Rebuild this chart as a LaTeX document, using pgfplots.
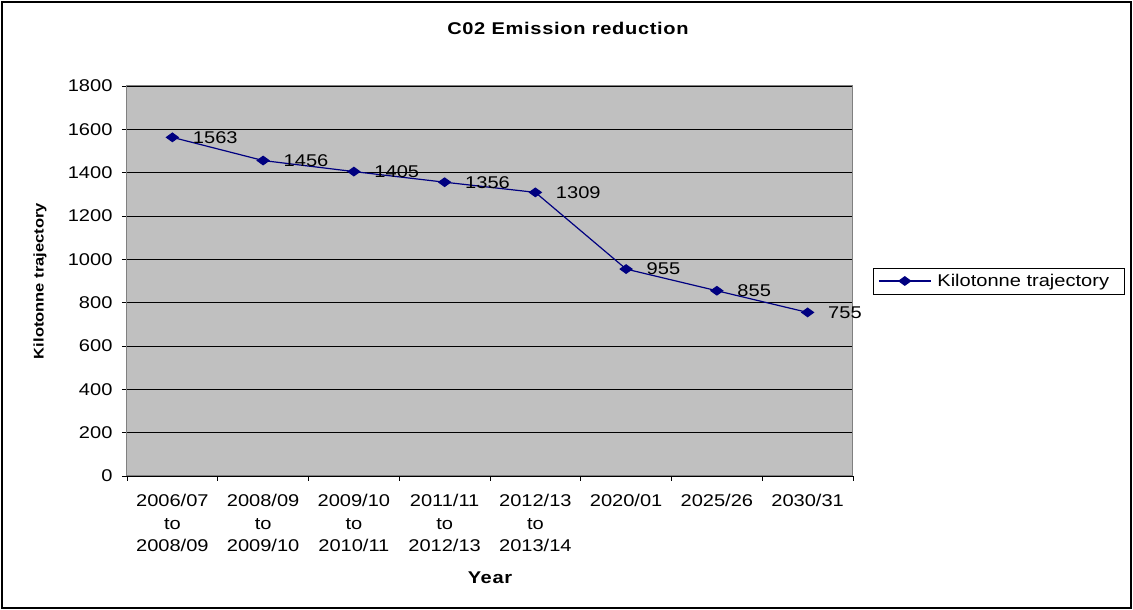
\documentclass[border=0pt]{standalone}
\usepackage{pgfplots}
\pgfplotsset{compat=1.18}
\usepackage{fontspec}
\setmainfont{Liberation Sans}[FakeStretch=1.18]
\definecolor{navy}{RGB}{0,0,128}
\definecolor{plotgrey}{RGB}{192,192,192}
\definecolor{frameg}{RGB}{128,128,128}
\newcommand{\lab}{\fontsize{17}{22.5}\selectfont}
\begin{document}
\begin{tikzpicture}
\useasboundingbox (-127pt,-134pt) rectangle (1006pt,476pt);
\draw[line width=1.3pt] (-125pt,-132pt) rectangle (1004pt,474pt);
\begin{axis}[
  at={(0pt,0pt)}, anchor=south west,
  scale only axis, width=726pt, height=390pt,
  xmin=-0.5, xmax=7.5, ymin=0, ymax=1800,
  ytick={0,200,...,1800},
  xtick={0,...,7},
  xticklabels={{2006/07\\to\\2008/09},{2008/09\\to\\2009/10},{2009/10\\to\\2010/11},{2011/11\\to\\2012/13},{2012/13\\to\\2013/14},{2020/01},{2025/26},{2030/31}},
  minor xtick={-0.5,0.5,...,7.5},
  minor ytick={0,200,...,1800},
  major tick length=0pt,
  minor tick length=5pt,
  tick align=outside,
  xtick pos=bottom, ytick pos=left,
  ymajorgrids,
  major grid style={black, line width=0.9pt},
  axis background/.style={fill=plotgrey},
  axis line style={draw=frameg, line width=1pt},
  minor tick style={black, line width=0.9pt},
  xticklabel style={anchor=north, align=center, font=\lab, yshift=-15pt},
  yticklabel style={anchor=east, font=\lab, xshift=-11pt},
  title={C02 Emission reduction},
  title style={at={(axis description cs:0.6074,1.131)}, anchor=center, font=\bfseries\fontsize{17}{20}\selectfont\addfontfeature{LetterSpace=4}},
  xlabel={Year},
  xlabel style={at={(axis description cs:0.5,-0.262)}, anchor=center, font=\bfseries\fontsize{17}{20}\selectfont\addfontfeature{LetterSpace=4}},
  ylabel={Kilotonne trajectory},
  ylabel style={at={(axis description cs:-0.1198,0.5)}, anchor=center, font=\bfseries\fontsize{14}{16}\selectfont},
  legend style={at={(rel axis cs:1,0.5)}, anchor=west, xshift=20pt, draw=black, fill=white, font=\lab, inner xsep=5pt, inner ysep=4pt, column sep=4pt},
  legend cell align=left,
  legend image code/.code={\draw[mark repeat=2,mark phase=2,#1] plot coordinates {(0pt,0pt) (26pt,0pt) (52pt,0pt)};},
  clip=false,
  /pgf/number format/1000 sep={},
  /pgf/number format/assume math mode=true,
]
\addplot[navy, line width=1.2pt, mark=diamond*, mark size=4.2pt,
  mark options={fill=navy, draw=navy, xscale=1.85},
  nodes near coords,
  nodes near coords style={anchor=west, xshift=18pt, inner sep=2pt, font=\lab, text=black},
] coordinates {
  (0,1563) (1,1456) (2,1405) (3,1356) (4,1309) (5,955) (6,855) (7,755)
};
\addlegendentry{Kilotonne trajectory\kern8pt}
\end{axis}
\end{tikzpicture}
\end{document}
